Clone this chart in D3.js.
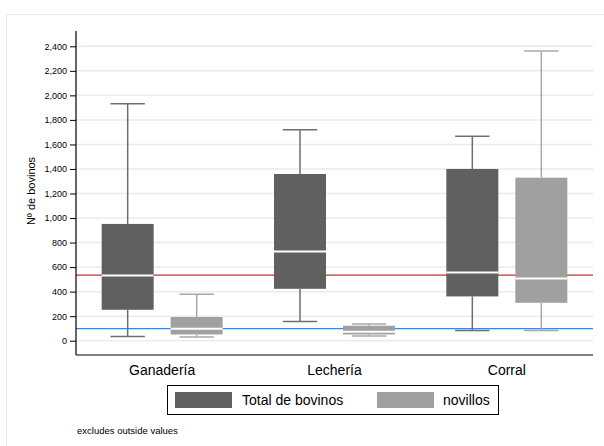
<!DOCTYPE html>
<html>
<head>
<meta charset="utf-8">
<script src="https://cdn.jsdelivr.net/npm/d3@7"></script>
<style>
  html, body { margin: 0; padding: 0; background: #fff; }
  svg { display: block; font-family: "Liberation Sans", Arial, sans-serif; }
</style>
</head>
<body>
<svg id="chart" width="604" height="446"></svg>
<script>
// Categories and series
const categories = ["Ganadería", "Lechería", "Corral"];
const seriesNames = ["Total de bovinos", "novillos"];
const seriesFill = ["#606060", "#a0a0a0"];
const seriesWhisker = ["#6e6e6e", "#a8a8a8"];

// Box statistics per category: [lower adjacent, q1, median, q3, upper adjacent]
const totalStats = [
  [35, 252, 531, 952, 1932],
  [157, 423, 727, 1359, 1719],
  [84, 361, 556, 1400, 1666]
];
const novillosStats = [
  [30, 51, 98, 193, 378],
  [38, 51, 73, 122, 136],
  [84, 309, 507, 1329, 2362]
];

// Reference lines (means)
const refLines = [
  { value: 535, color: "#d42a2a" },
  { value: 98, color: "#3f87d6" }
];

const yTicks = d3.range(0, 2401, 200);

const svg = d3.select("#chart");

// outer frame
svg.append("rect")
  .attr("x", 6.5).attr("y", 14.5)
  .attr("width", 640).attr("height", 460)
  .attr("fill", "none").attr("stroke", "#ececec").attr("stroke-width", 1);

const plot = { left: 76, right: 593, top: 31, bottom: 355 };

const y = d3.scaleLinear().domain([0, 2400]).range([340.7, 46.3]);
const xGroup = d3.scaleBand().domain(categories).range([plot.left, plot.right]).padding(0);
const xSeries = d3.scaleBand().domain(seriesNames).range([-60.5, 60.5]).paddingInner(0.2464).paddingOuter(0);

// gridlines
svg.append("g").selectAll("line")
  .data(yTicks)
  .join("line")
  .attr("x1", plot.left).attr("x2", plot.right)
  .attr("y1", d => y(d)).attr("y2", d => y(d))
  .attr("stroke", "#ebebeb").attr("stroke-width", 1.5);

// reference lines sit beneath the boxes
svg.append("g").selectAll("line")
  .data(refLines)
  .join("line")
  .attr("x1", plot.left).attr("x2", plot.right)
  .attr("y1", d => y(d.value)).attr("y2", d => y(d.value))
  .attr("stroke", d => d.color).attr("stroke-width", 1.3);

// y axis
const yAxis = d3.axisLeft(y).tickValues(yTicks).tickSize(6).tickPadding(3)
  .tickFormat(d3.format(","));
const gy = svg.append("g").attr("transform", `translate(${plot.left},0)`).call(yAxis);
gy.select(".domain").remove();
gy.selectAll(".tick line").attr("stroke", "#000");
gy.selectAll(".tick text").attr("font-size", 9).attr("fill", "#000")
  .attr("font-family", "'Liberation Sans', Arial, sans-serif");
svg.append("line")
  .attr("x1", plot.left).attr("x2", plot.left)
  .attr("y1", plot.top).attr("y2", plot.bottom)
  .attr("stroke", "#000").attr("stroke-width", 1.2);

// y label
svg.append("text")
  .attr("transform", `translate(35,${(plot.top + plot.bottom) / 2 - 2}) rotate(-90)`)
  .attr("text-anchor", "middle")
  .attr("font-size", 11)
  .text("Nº de bovinos");

// boxes
const allStats = [totalStats, novillosStats];
const boxes = [];
categories.forEach((c, ci) => {
  seriesNames.forEach((s, si) => {
    boxes.push({ cat: c, series: s, si, stats: allStats[si][ci] });
  });
});

const gBoxes = svg.append("g");
boxes.forEach(b => {
  const bw = xSeries.bandwidth();
  const x0 = xGroup(b.cat) + xGroup.bandwidth() / 2 + xSeries(b.series);
  const cx = x0 + bw / 2;
  const [lo, q1, med, q3, hi] = b.stats;
  const g = gBoxes.append("g");
  const wc = seriesWhisker[b.si];
  const capW = bw * 0.66;
  // whiskers
  g.append("line").attr("x1", cx).attr("x2", cx).attr("y1", y(hi)).attr("y2", y(q3))
    .attr("stroke", wc).attr("stroke-width", 1.5);
  g.append("line").attr("x1", cx).attr("x2", cx).attr("y1", y(q1)).attr("y2", y(lo))
    .attr("stroke", wc).attr("stroke-width", 1.5);
  g.append("line").attr("x1", cx - capW / 2).attr("x2", cx + capW / 2).attr("y1", y(hi)).attr("y2", y(hi))
    .attr("stroke", wc).attr("stroke-width", 1.5);
  g.append("line").attr("x1", cx - capW / 2).attr("x2", cx + capW / 2).attr("y1", y(lo)).attr("y2", y(lo))
    .attr("stroke", wc).attr("stroke-width", 1.5);
  // box
  g.append("rect").attr("x", x0).attr("width", bw)
    .attr("y", y(q3)).attr("height", y(q1) - y(q3))
    .attr("fill", seriesFill[b.si]);
  // median
  g.append("line").attr("x1", x0).attr("x2", x0 + bw).attr("y1", y(med)).attr("y2", y(med))
    .attr("stroke", "#fff").attr("stroke-width", 2);
});

// bottom axis line
svg.append("line")
  .attr("x1", plot.left).attr("x2", plot.right)
  .attr("y1", plot.bottom).attr("y2", plot.bottom)
  .attr("stroke", "#000").attr("stroke-width", 1.2);

// category labels
svg.append("g").selectAll("text")
  .data(categories)
  .join("text")
  .attr("x", d => xGroup(d) + xGroup.bandwidth() / 2)
  .attr("y", 375)
  .attr("text-anchor", "middle")
  .attr("font-size", 14)
  .text(d => d);

// legend
const lg = svg.append("g");
lg.append("rect").attr("x", 167.5).attr("y", 385.5).attr("width", 331).attr("height", 29)
  .attr("fill", "#fff").attr("stroke", "#000").attr("stroke-width", 1);
const legendItems = [
  { name: seriesNames[0], fill: seriesFill[0], sx: 175, tx: 242 },
  { name: seriesNames[1], fill: seriesFill[1], sx: 377, tx: 443 }
];
legendItems.forEach(it => {
  lg.append("rect").attr("x", it.sx).attr("y", 392).attr("width", 57).attr("height", 16)
    .attr("fill", it.fill);
  lg.append("text").attr("x", it.tx).attr("y", 405).attr("font-size", 14).text(it.name);
});

// note
svg.append("text").attr("x", 77).attr("y", 434).attr("font-size", 9.5).text("excludes outside values");
</script>
</body>
</html>
